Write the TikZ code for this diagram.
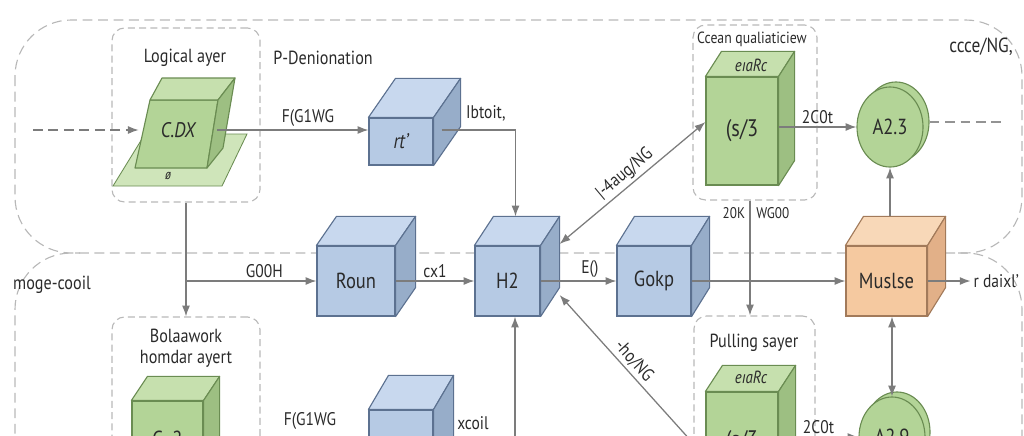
\documentclass[tikz,border=0pt]{standalone}
\usepackage{fontspec}
\setmainfont{PT Sans}[FakeStretch=0.85]
\usetikzlibrary{positioning, arrows.meta, calc, shapes.geometric}
\definecolor{leaf}{HTML}{B3D497}
\definecolor{leaftop}{HTML}{C6E0AE}
\definecolor{leafside}{HTML}{9DBF82}
\definecolor{leafline}{HTML}{6A8C52}
\definecolor{sky}{HTML}{B6CAE4}
\definecolor{skytop}{HTML}{C8D8EE}
\definecolor{skyside}{HTML}{97ADC9}
\definecolor{skyline}{HTML}{5C7190}
\definecolor{peach}{HTML}{F5C9A0}
\definecolor{peachtop}{HTML}{F8D8B8}
\definecolor{peachside}{HTML}{E2B088}
\definecolor{peachline}{HTML}{A27A5A}
\definecolor{wire}{HTML}{7C7C7C}
\definecolor{fence}{HTML}{B8B8B8}
\definecolor{ink}{HTML}{2A2A2A}
\tikzset{
  region/.style={draw=fence, line width=0.8pt, dash pattern=on 7pt off 4pt, rounded corners=40pt},
  layerbox/.style={draw=fence, line width=0.8pt, dash pattern=on 5pt off 3pt, rounded corners=9pt},
  front/.style={draw=#1line, fill=#1, line width=0.8pt, inner sep=0pt,
                font=\fontsize{15.5}{17}\selectfont, text=ink},
  disc/.style={ellipse, draw=leafline, fill=leaf, line width=0.8pt, inner sep=0pt,
               minimum width=1.65cm, minimum height=2cm, font=\fontsize{15.5}{17}\selectfont, text=ink},
  link/.style={-{Latex[length=2.7mm, width=2mm]}, line width=0.9pt, draw=wire},
  linkboth/.style={{Latex[length=2.7mm, width=2mm]}-{Latex[length=2.7mm, width=2mm]}, line width=0.9pt, draw=wire},
  trail/.style={line width=0.9pt, draw=fence!80!black, dash pattern=on 7pt off 4pt},
  title/.style={font=\fontsize{13.5}{16}\selectfont, text=ink, align=center},
  tag/.style={font=\fontsize{13}{15}\selectfont, text=ink, inner sep=2pt},
  small/.style={font=\fontsize{11}{13}\selectfont, text=ink, inner sep=1pt},
}
% top and side faces behind a front node: node, shift, colour
\newcommand{\cubeback}[3]{%
  \draw[draw=#3line, fill=#3top, line width=0.8pt, line join=round]
    (#1.north west) -- ++(#2) -- ($(#1.north east)+(#2)$) -- (#1.north east) -- cycle;
  \draw[draw=#3line, fill=#3side, line width=0.8pt, line join=round]
    (#1.north east) -- ++(#2) -- ($(#1.south east)+(#2)$) -- (#1.south east) -- cycle;
}

\begin{document}
\begin{tikzpicture}[x=0.025cm, y=-0.025cm]
  \useasboundingbox (0,0) rectangle (1024,435);
  \clip (0,0) rectangle (1024,435);

  % regions
  \draw[region] (15,20) rectangle (1022,253);
  \draw[region] (15,480) -- (15,253) -- (80,253);
  \draw[region] (958,253) -- (1022,253) -- (1022,480);

  % layer boxes
  \node[layerbox, minimum width=3.7cm, minimum height=4.35cm] (logicbox) at (186,115) {};
  \node[layerbox, minimum width=3.1cm, minimum height=4.375cm] (oceanbox) at (755,112.5) {};
  \node[layerbox, minimum width=3.7cm, minimum height=5.325cm] (bolaabox) at (186,423.5) {};
  \node[layerbox, minimum width=3.025cm, minimum height=5.325cm] (pullbox) at (754.5,422.5) {};

  \node[title] (logictitle) at (185,58) {Logical ayer};
  \node[title] (oceantitle) at (752,39) {\fontsize{11.5}{13}\selectfont Ccean qualiaticiew};
  \node[title] (bolaatitle) at (186,348) {Bolaawork\\[-1pt]homdar ayert};
  \node[title] (pulltitle) at (754,343) {Pulling sayer};
  \node[title] (denion) at (323,58) {P-Denionation};
  \node[title, font=\fontsize{14.5}{17}\selectfont] (ccce) at (981,47) {ccce/NG,};
  \node[title] (moge) at (52,285) {moge-cooil};

  % logical cube on its plane
  \draw[draw=leafline, fill=leaftop!85!white, line width=0.6pt] (113,186) -- (222,186) -- (247,134) -- (145,134) -- cycle;
  \draw[draw=leafline, fill=leaf, line width=0.8pt, line join=round] (135,168) -- (207,168) -- (218,100) -- (150,100) -- cycle;
  \draw[draw=leafline, fill=leaftop, line width=0.8pt, line join=round] (150,100) -- (162,78) -- (235,78) -- (218,100) -- cycle;
  \draw[draw=leafline, fill=leafside, line width=0.8pt, line join=round] (218,100) -- (235,78) -- (223,148) -- (207,168) -- cycle;
  \node[font=\fontsize{15}{17}\selectfont\itshape, text=ink, minimum width=1.95cm, minimum height=1.7cm] (logic) at (178,130) {C.DX};
  \node[small, font=\fontsize{10}{12}\selectfont\itshape] (logicmark) at (168,176) {ø};

  % cubes
  \node[front=sky, minimum width=1.6cm, minimum height=1.175cm, font=\fontsize{15}{17}\selectfont\itshape] (rt) at (401,141.5) {rt'};
  \cubeback{rt}{27,-39}{sky}
  \node[front=sky, minimum width=1.95cm, minimum height=1.75cm] (roun) at (356,281) {Roun};
  \cubeback{roun}{20,-29}{sky}
  \node[front=sky, minimum width=1.625cm, minimum height=1.75cm] (h2) at (507.5,281) {H2};
  \cubeback{h2}{19,-29}{sky}
  \node[front=sky, minimum width=1.85cm, minimum height=1.75cm] (gokp) at (654,281) {Gokp};
  \cubeback{gokp}{18,-29}{sky}
  \node[front=peach, minimum width=2.025cm, minimum height=1.75cm] (muslse) at (886.5,281) {Muslse};
  \cubeback{muslse}{18,-29}{peach}
  \node[front=leaf, minimum width=1.8cm, minimum height=2.7cm, font=\fontsize{17}{19}\selectfont] (cs3) at (742,131) {(s/3};
  \cubeback{cs3}{16,-25}{leaf}
  \node[small, font=\fontsize{12.5}{14}\selectfont\itshape] (cs3top) at (751,65) {eıaRc};
  \node[front=leaf, minimum width=1.8cm, minimum height=2.5cm, font=\fontsize{17}{19}\selectfont] (pullc) at (742,442) {(s/3};
  \cubeback{pullc}{17,-26}{leaf}
  \node[small, font=\fontsize{12.5}{14}\selectfont\itshape] (pulltop) at (751,377) {eıaRc};
  \node[front=leaf, minimum width=1.775cm, minimum height=1.9cm] (bolaac) at (167.5,439) {C=2};
  \cubeback{bolaac}{16,-24}{leaf}
  \node[front=sky, minimum width=1.6cm, minimum height=1.75cm] (lowc) at (401,445) {};
  \cubeback{lowc}{20,-34}{sky}

  % circles
  \node[disc] (a23rim) at (896,122) {};
  \node[disc] (a23) at (890,127) {A2.3};
  \node[disc] (a29rim) at (897,432) {};
  \node[disc] (a29) at (892,437) {A2.9};

  % connectors
  \coordinate (inL) at (33,130);
  \draw[link, dash pattern=on 7pt off 4pt] (inL) -- (logic.west);
  \draw[link] (logic.east) -- (logic.east -| rt.west) node[pos=0.6, above, tag] {F(G1WG};
  \draw[link] ($(rt.east)+(8,-11.5)$) -| ($(h2.north)+(8,-29)$) node[pos=0.3, above=4pt, tag] {Ibtoit,};
  \draw[link] (logicbox.south) -- (bolaabox.north);
  \draw[link] (logicbox.south |- roun.west) -- (roun.west) node[pos=0.6, above, tag] {G00H};
  \draw[link] (roun.east) -- (h2.west) node[midway, above, tag] {cx1};
  \draw[link] (h2.east) -- (gokp.west) node[pos=0.65, above, tag] {E()};
  \draw[link] (gokp.east) -- (muslse.west);
  \draw[link] (muslse.east) -- ++(43,0) coordinate (outR);
  \node[tag, right] (outlbl) at (outR) {r daixl'};
  \draw[link] (cs3.east |- a23.west) -- (a23.west) node[midway, above, tag] {2C0t};
  \draw[trail] (a23rim.east) -- ++(72,0) coordinate (outA);
  \draw[link] ($(a23.south |- muslse.north)+(0,-29)$) -- (a23.south);
  \draw[linkboth] (a29.north |- muslse.south) -- (a29.north);
  \draw[linkboth] ($(h2.east)+(19,-37)$) -- ($(cs3.west)+(0,-9)$) node[midway, sloped, above, tag] {|-4aug/NG};
  \coordinate (lowD) at (692,442);
  \draw[link] (lowD) -- ($(h2.east)+(19,14)$) node[midway, sloped, above, tag] {-ho/NG};
  \coordinate (lowH) at (515,440);
  \draw[link] (lowH) -- (lowH |- h2.south);
  \coordinate (drop) at ($(oceanbox.south)+(-5,0)$);
  \draw[link] (drop) -- (drop |- pullbox.north);
  \node[small] (droplbl) at (756,213) {20K\hspace{8pt}WG00};
  \draw[link] (pullc.east |- a29.west) -- (a29.west) node[midway, above, tag] {2C0t};
  \node[tag] (lowf) at (310,421) {F(G1WG};
  \node[tag] (lowx) at (473,423) {xcoil};
\end{tikzpicture}
\end{document}
